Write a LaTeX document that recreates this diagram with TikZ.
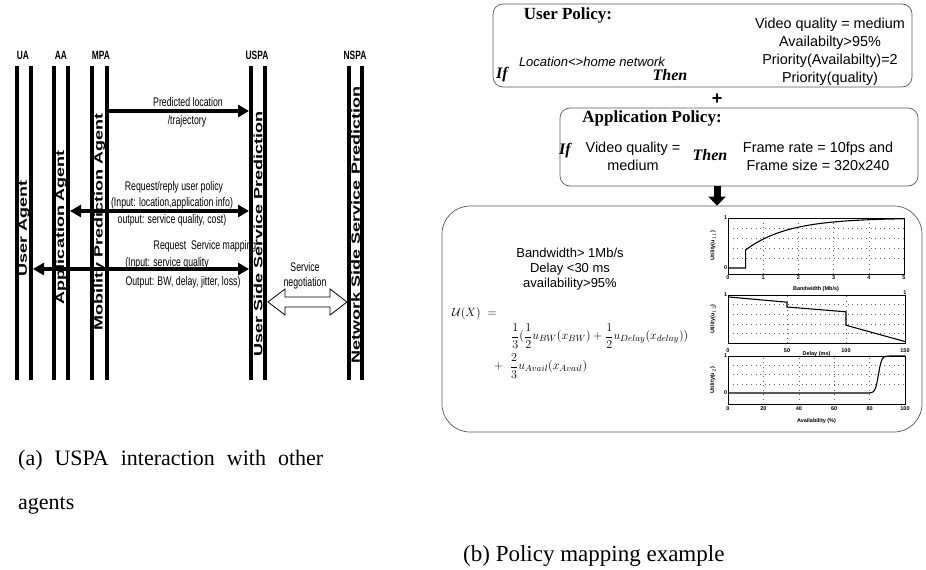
\documentclass[tikz,border=0pt]{standalone}
\usepackage{amsmath}
\usepackage{fontspec}
\setmainfont{Liberation Serif}
\setsansfont{Liberation Sans}
\newfontfamily\narrowsf[FakeStretch=0.7]{Liberation Sans}
\newfontfamily\widesf[FakeStretch=1.5]{Liberation Sans}
\usetikzlibrary{arrows.meta,calc}
\newcommand{\fsz}[1]{\fontsize{#1}{#1}\selectfont}
\newcommand{\fszb}[2]{\fontsize{#1}{#2}\selectfont}
\tikzset{
  bigtri/.tip={Triangle[length=11pt 0,width=12pt 0]},
  blocktri/.tip={Triangle[length=9pt 0,width=17pt 0]},
}
\begin{document}
\begin{tikzpicture}[x=1pt,y=-1pt,
  life/.style={line width=3.6pt},
  msg/.style={line width=3.6pt},
  lbl/.style={font=\narrowsf\fsz{12.5}, inner sep=0pt},
  agentlbl/.style={font=\narrowsf\bfseries\fsz{12}, inner sep=0pt},
  vlbl/.style={font=\widesf\bfseries\fsz{12}, rotate=90, inner sep=0pt},
  pbox/.style={draw=black!65, line width=0.7pt, rounded corners=10pt},
  ttl/.style={font=\bfseries\fsz{17}, inner sep=0pt},
  kw/.style={font=\bfseries\itshape\fsz{16}, inner sep=0pt},
  val/.style={font=\sffamily\fszb{14.4}{18}, inner sep=0pt, align=center},
  captxt/.style={font=\fsz{22}, inner sep=0pt, anchor=west},
  axl/.style={font=\sffamily\bfseries\fsz{5.5}, inner sep=0.6pt},
  grd/.style={dash pattern=on 0.6pt off 4pt, line width=0.5pt, black!60},
  crv/.style={line width=1.1pt},
  frm/.style={line width=0.9pt},
]
\useasboundingbox (0,0) rectangle (926,570);

% ---------------- (a) left diagram ----------------
\node[agentlbl] (ua)   at (23,55)  {UA};
\node[agentlbl] (aa)   at (61,55)  {AA};
\node[agentlbl] (mpa)  at (101,55) {MPA};
\node[agentlbl] (uspa) at (257,55) {USPA};
\node[agentlbl] (nspa) at (355,55) {NSPA};

% message labels (drawn before the lines)
\node[lbl] (m1a) at (188,102) {Predicted location};
\node[lbl] (m1b) at (187,121) {/trajectory};
\node[lbl] (m2a) at (174,187) {Request/reply user policy};
\node[lbl] (m2b) at (172,203) {(Input: location,application info)};
\node[lbl] (m2c) at (172,220) {output: service quality, cost)};
\node[lbl] (m3a) at (205,246) {Request\ \ Service mapping};
\node[lbl] (m3b) at (167,263) {(Input: service quality};
\node[lbl] (m3c) at (183,282) {Output: BW, delay, jitter, loss)};
\node[lbl] (sna) at (305,267) {Service};
\node[lbl] (snb) at (305,283) {negotiation};

% lifelines
\foreach \lx in {17,31,54,68,92,107,251,265,349,362}
  \draw[life] (\lx,66) -- (\lx,380);

% vertical agent names
\node[vlbl] (uatxt)   at (24,228)   {User Agent};
\node[vlbl] (aatxt)   at (61,227)   {Application Agent};
\node[vlbl] (mpatxt)  at (99.5,222) {Mobility Prediction Agent};
\node[vlbl] (uspatxt) at (258,234)  {User Side Service Prediction};
\node[vlbl] (nspatxt) at (355.5,225){Network Side Service Prediction};

% connector end points on the lifelines
\coordinate (mpaR)  at (109,111);
\coordinate (uspa1) at (249,111);
\coordinate (aaR)   at (70,211);
\coordinate (uspa2) at (249,211);
\coordinate (uaR)   at (33,269);
\coordinate (uspa3) at (249,269);
\coordinate (uspaR) at (268,302);
\coordinate (nspaL) at (347,302);

\draw[msg,-bigtri] (mpaR) -- (uspa1);
\draw[msg,bigtri-bigtri] (aaR) -- (uspa2);
\draw[msg,bigtri-bigtri] (uaR) -- (uspa3);

% hollow double arrow: service negotiation
\draw[line width=0.8pt, fill=white] (uspaR) -- ++(17,-13) -- ++(0,8)
  -- ($(nspaL)+(-17,-5)$) -- ++(0,-8) -- (nspaL) -- ++(-17,13) -- ++(0,-8)
  -- ($(uspaR)+(17,5)$) -- ++(0,8) -- cycle;

% captions
\node[captxt] (capa) at (18,460) {(a)\hspace{12pt}USPA\hspace{12pt}interaction\hspace{12pt}with\hspace{12pt}other};
\node[captxt] (capag) at (18,506) {agents};
\node[captxt, font=\fsz{23}] (capb) at (463,556) {(b) Policy mapping example};

% ---------------- (b) right diagram ----------------
\node[pbox, minimum width=419, minimum height=83] (upbox) at (702.5,45.5) {};
\node[ttl] (uptitle) at (568,15) {User Policy:};
\node[kw] (upif) at (502,75) {If};
\node[font=\sffamily\itshape\fsz{13}, inner sep=0pt] (upcond) at (592,62) {Location<>home network};
\node[kw] (upthen) at (670,75) {Then};
\node[val] (upval) at (830,52) {Video quality = medium\\Availabilty>95\%\\Priority(Availabilty)=2\\Priority(quality)};

\node[font=\sffamily\bfseries\fsz{18}, inner sep=0pt] (plus) at (717,99) {+};

\node[pbox, minimum width=358, minimum height=78] (apbox) at (739,147) {};
\node[ttl] (aptitle) at (652,118) {Application Policy:};
\node[kw] (apif) at (565,151) {If};
\node[val] (apcond) at (633,156) {Video quality =\\medium};
\node[kw] (apthen) at (710,155) {Then};
\node[val] (apval) at (818,156) {Frame rate = 10fps and\\Frame size = 320x240};

\node[pbox, rounded corners=28pt, minimum width=480, minimum height=226] (bigbox) at (682,319) {};
\draw[line width=7pt, -blocktri] (apbox.south -| plus) -- (bigbox.north -| plus);

\node[font=\sffamily\fszb{13}{15}, align=center, inner sep=0pt] (req) at (570,269) {Bandwidth> 1Mb/s\\Delay <30 ms\\availability>95\%};
\node[font=\fsz{12.5}, inner sep=0pt, anchor=west] (ux) at (452,313) {$\mathcal{U}(X)$\hspace{7pt}$=$};
\node[font=\fsz{13}, inner sep=0pt, anchor=west] (f1) at (511,336) {$\dfrac{1}{3}(\dfrac{1}{2}u_{BW}(x_{BW})+\dfrac{1}{2}u_{Delay}(x_{delay}))$};
\node[font=\fsz{13}, inner sep=0pt, anchor=west] (f2) at (494,366) {$+\;\;\dfrac{2}{3}u_{Avail}(x_{Avail})$};

% plot 1: bandwidth
\begin{scope}[shift={(728,268)}, x=35.2pt, y=50pt]
  \foreach \g in {1,2,3,4} \draw[grd] (\g,-0.12) -- (\g,1);
  \foreach \g in {0.2,0.4,0.6,0.8} \draw[grd] (0,\g) -- (5,\g);
  \draw[crv] (0,0) -- (0.5,0) -- (0.5,0.36) -- plot[domain=0.5:5, samples=40, smooth] (\x,{1-0.64*exp(-(\x-0.5)/1.2)});
  \draw[frm] (0,-0.12) rectangle (5,1);
  \foreach \t in {0,...,5} \node[axl, anchor=north] (pa\t) at (\t,-0.14) {\t};
  \node[axl, anchor=east] (pay1) at (0,1) {1};
  \node[axl, anchor=east] (pay0) at (0,0) {0};
  \node[axl] (paxl) at (2.5,-0.42) {Bandwidth (Mb/s)};
  \node[axl, rotate=90] (payl) at (-0.42,0.45) {Utility(u$_{11}$)};
\end{scope}

% plot 2: delay
\begin{scope}[shift={(728,343)}, x=1.18pt, y=48pt]
  \foreach \g in {50,100} \draw[grd] (\g,0) -- (\g,1);
  \foreach \g in {0.2,0.4,0.6,0.8} \draw[grd] (0,\g) -- (150,\g);
  \draw[crv] (0,0.96) -- (50,0.85) -- (50,0.75) -- (100,0.65) -- (100,0.37) -- (150,0.03);
  \draw[frm] (0,0) rectangle (150,1);
  \foreach \t in {0,50,100,150} \node[axl, anchor=north] (pb\t) at (\t,-0.1) {\t};
  \node[axl, anchor=east] (pby1) at (0,1) {1};
  \node[axl, anchor=south] (pbr1) at (150,1) {1};
  \node[axl] (pbxl) at (75,-0.24) {Delay (ms)};
  \node[axl, rotate=90] (pbyl) at (-12.7,0.5) {Utility(u$_{12}$)};
\end{scope}

% plot 3: availability
\begin{scope}[shift={(728,393)}, x=1.77pt, y=37pt]
  \foreach \g in {20,40,60,80} \draw[grd] (\g,-0.3) -- (\g,1);
  \foreach \g in {0.25,0.5,0.75} \draw[grd] (0,\g) -- (100,\g);
  \draw[crv] (0,0) -- (80,0) -- plot[domain=80:100, samples=60, smooth] (\x,{1/(1+exp(-(\x-85)/0.9))});
  \draw[frm] (0,-0.3) rectangle (100,1);
  \foreach \t in {0,20,40,60,80,100} \node[axl, anchor=north] (pc\t) at (\t,-0.36) {\t};
  \node[axl, anchor=east] (pcy1) at (0,1) {1};
  \node[axl, anchor=east] (pcy0) at (0,0) {0};
  \node[axl] (pcxl) at (50,-0.75) {Availability (\%)};
  \node[axl, rotate=90] (pcyl) at (-8.5,0.35) {Utility(u$_{2}$)};
\end{scope}
\end{tikzpicture}
\end{document}
